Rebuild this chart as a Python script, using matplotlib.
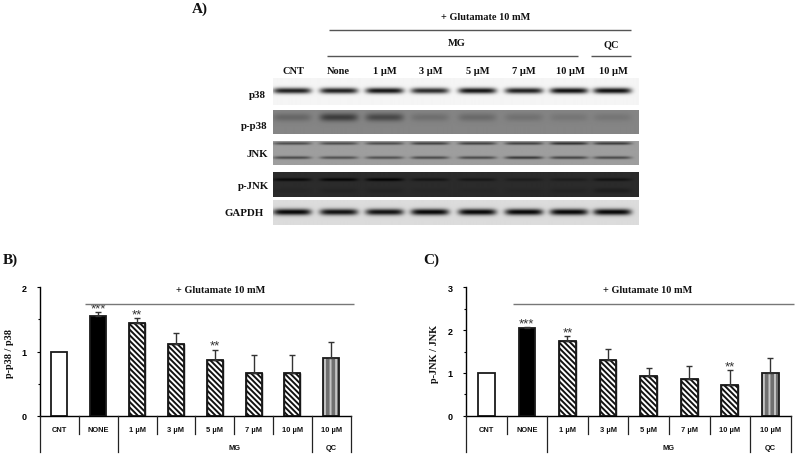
import numpy as np
import matplotlib
matplotlib.use("Agg")
import matplotlib.pyplot as plt

plt.rcParams['hatch.linewidth'] = 1.4
W, H = 796, 456

categories = ["CNT", "NONE", "1 µM", "3 µM", "5 µM", "7 µM", "10 µM", "10 µM"]
p38_values = [1.0, 1.55, 1.44, 1.11, 0.86, 0.67, 0.66, 0.90]
p38_errors = [0.0, 0.07, 0.08, 0.18, 0.17, 0.28, 0.28, 0.25]
p38_stars = ["", "***", "**", "", "**", "", "", ""]
jnk_values = [1.0, 2.05, 1.74, 1.29, 0.93, 0.85, 0.72, 1.0]
jnk_errors = [0.0, 0.02, 0.13, 0.28, 0.19, 0.30, 0.34, 0.35]
jnk_stars = ["", "***", "**", "", "", "", "**", ""]
bar_styles = ["open", "solid", "diag", "diag", "diag", "diag", "diag", "vert"]

blot_lanes = ["CNT", "None", "1 µM", "3 µM", "5 µM", "7 µM", "10 µM", "10 µM"]
# band darkness by lane (0 = none, 1 = black)
p38_band = [0.9, 0.9, 0.95, 0.85, 0.95, 0.9, 0.97, 0.97]
pp38_band = [0.25, 0.6, 0.5, 0.18, 0.22, 0.16, 0.12, 0.12]
jnk_upper = [0.7, 0.7, 0.7, 0.8, 0.8, 0.8, 0.95, 0.85]
jnk_lower = [0.7, 0.65, 0.65, 0.7, 0.7, 0.85, 0.75, 0.7]
pjnk_upper = [0.85, 0.95, 1.0, 0.55, 0.5, 0.35, 0.35, 0.6]
pjnk_lower = [0.1, 0.15, 0.15, 0.08, 0.08, 0.08, 0.15, 0.3]
gapdh_band = [1.0, 0.95, 0.95, 1.0, 1.0, 1.0, 1.0, 1.0]
blot_names = ["p38", "p-p38", "JNK", "p-JNK", "GAPDH"]

SERIF = "Liberation Serif"
SANS = "Liberation Sans"

fig = plt.figure(figsize=(W / 100, H / 100), dpi=100, facecolor="white")
ov = fig.add_axes([0, 0, 1, 1], zorder=5)
ov.set_xlim(0, W); ov.set_ylim(H, 0); ov.axis("off"); ov.patch.set_alpha(0)


def label(x, y, s, size=7.2, family=SERIF, **kw):
    ov.text(x, y, s, fontsize=size, family=family, fontweight="bold",
            ha=kw.pop("ha", "center"), va=kw.pop("va", "center"), color="#111111", **kw)


def rule(x0, x1, y, c="#555555", lw=1.0):
    ov.plot([x0, x1], [y, y], color=c, lw=lw, solid_capstyle="butt")


# ---------- Panel A ----------
lane_x = 180 + np.array([335, 475, 612, 748, 890, 1030, 1165, 1295]) / 3
bx0, bx1 = 272.7, 638.0


def blot(y0, y1, bg, bands, ink):
    """bands: list of (row fraction, thickness fraction, lane darkness)"""
    h = int(round(y1 - y0)) * 2
    w = int(round(bx1 - bx0)) * 2
    xs = np.linspace(bx0, bx1, w)
    ys = np.linspace(0, 1, h)
    img = np.full((h, w), float(bg))
    for row, th, dark in bands:
        for cx, d in zip(lane_x, dark):
            prof_x = np.exp(-np.abs((xs - cx) / 19.0) ** 6)
            prof_y = np.exp(-((ys - row) / th) ** 2)
            img -= (img - ink) * d * np.outer(prof_y, prof_x)
    ax = fig.add_axes([bx0 / W, 1 - y1 / H, (bx1 - bx0) / W, (y1 - y0) / H], zorder=1)
    ax.imshow(img, cmap="gray", vmin=0, vmax=1, aspect="auto", interpolation="bilinear")
    ax.axis("off")


blot(79, 106, 0.96, [(0.47, 0.11, p38_band)], 0.03)
blot(110.7, 134.7, 0.52, [(0.3, 0.17, pp38_band)], 0.05)
blot(142, 166, 0.62, [(0.13, 0.055, jnk_upper), (0.71, 0.06, jnk_lower)], 0.15)
blot(173, 198, 0.17, [(0.3, 0.06, pjnk_upper), (0.75, 0.1, pjnk_lower)], 0.01)
blot(201, 226, 0.86, [(0.48, 0.13, gapdh_band)], 0.02)

label(180 + 60 / 3, 9, "A)", size=11, ha="center")
label(180 + 918 / 3, 17, "+ Glutamate 10 mM", size=7.4)
rule(180 + 447 / 3, 180 + 1352 / 3, 31)
label(180 + 830 / 3, 43.5, "MG", size=7.5)
rule(180 + 442 / 3, 180 + 1193 / 3, 57)
label(180 + 1293 / 3, 44.5, "QC", size=7.5)
rule(180 + 1233 / 3, 180 + 1352 / 3, 57)
text_lane_x = 180 + np.array([341, 476, 614, 753, 892, 1031, 1170, 1300]) / 3
for x, s in zip(text_lane_x, blot_lanes):
    label(x, 72, s, size=7.5)
for s, x, y in zip(blot_names, [258 / 3, 262 / 3, 265 / 3, 267 / 3, 252 / 3], [286, 380, 463, 560, 642]):
    label(180 + x, y / 3, s, size=7.8, ha="right")


# ---------- Panels B, C ----------
def chart(x0, x1, vals, errs, stars, ymax, ylabel, panel, ylab_x, tx, lx0, lx1):
    y0, y1 = 416.7, 288.3
    ax = fig.add_axes([x0 / W, 1 - y0 / H, (x1 - x0) / W, (y0 - y1) / H], zorder=2)
    ax.set_xlim(0, len(vals)); ax.set_ylim(0, ymax)
    ax.patch.set_alpha(0)
    pos = np.arange(len(vals)) + 0.5
    for x, v, e, st, s in zip(pos, vals, errs, bar_styles, stars):
        if st == "vert":
            ax.bar(x, v, width=0.41, facecolor="#707070", edgecolor="#c4c4c4",
                   hatch="|||", linewidth=0)
        elif st == "diag":
            ax.bar(x, v, width=0.41, facecolor="white", edgecolor="#111111",
                   hatch="\\" * 6)
        ax.bar(x, v, width=0.41, edgecolor="#1a1a1a", linewidth=1.3,
               facecolor={"open": "white", "solid": "black"}.get(st, "none"))
        if e > 0:
            ax.errorbar(x, v, yerr=[[0], [e]], color="#333333", capsize=2.5, lw=1.0, capthick=1.0)
        if s:
            ax.text(x, v + e - ymax * 0.018, s, ha="center", va="bottom", fontsize=9.5,
                    family=SANS, color="#333333", linespacing=1)
    for sp in ("top", "right"):
        ax.spines[sp].set_visible(False)
    for sp in ("left", "bottom"):
        ax.spines[sp].set_linewidth(1.0)
    ax.set_xticks([])
    ax.set_yticks(np.arange(0, ymax + 0.1, 1))
    ax.set_yticks(np.arange(0, ymax + 0.1, 0.5), minor=True)
    ax.tick_params(axis="y", which="major", length=2.5, width=0.8, pad=7)
    ax.tick_params(axis="y", which="minor", length=1.5, width=0.8)
    for t in ax.get_yticklabels():
        t.set_fontsize(6.5); t.set_family(SANS); t.set_fontweight("bold")
    ov.text(ylab_x, (y0 + y1) / 2 + 1, ylabel, rotation=90, fontsize=7.4, family=SERIF,
            fontweight="bold", ha="center", va="center", color="#111111")
    label(panel[1], 260, panel[0], size=11)
    label(tx, 290.7, "+ Glutamate 10 mM", size=7.4)
    rule(lx0, lx1, 304.7, c="#777777")
    # category table below the axis
    step = (x1 - x0) / len(vals)
    for i, c in enumerate(categories):
        ov.text(x0 + (i + 0.5) * step, 430.5, c, fontsize=5.4, family=SANS, fontweight="bold",
                ha="center", va="center", color="#111111")
    for i in range(len(vals) + 1):
        xx = x0 + i * step
        bottom = 453 if i in (0, 2, 7, 8) else 435
        ov.plot([xx, xx], [y0, bottom], color="#222222", lw=0.9)
    ov.text(x0 + 5 * step, 448.5, "MG", fontsize=5.4, family=SANS, fontweight="bold",
            ha="center", va="center", color="#111111")
    ov.text(x0 + 7.5 * step, 448.5, "QC", fontsize=5.4, family=SANS, fontweight="bold",
            ha="center", va="center", color="#111111")


chart(40, 350.7, p38_values, p38_errors, p38_stars, 2, "p-p38 / p38", ("B)", 10), 10,
      221, 84.7, 354)
chart(466, 790.7, jnk_values, jnk_errors, jnk_stars, 3, "p-JNK / JNK", ("C)", 431), 434.5,
      648, 512.7, 794)

fig.savefig("out.png", dpi=100, facecolor="white")
